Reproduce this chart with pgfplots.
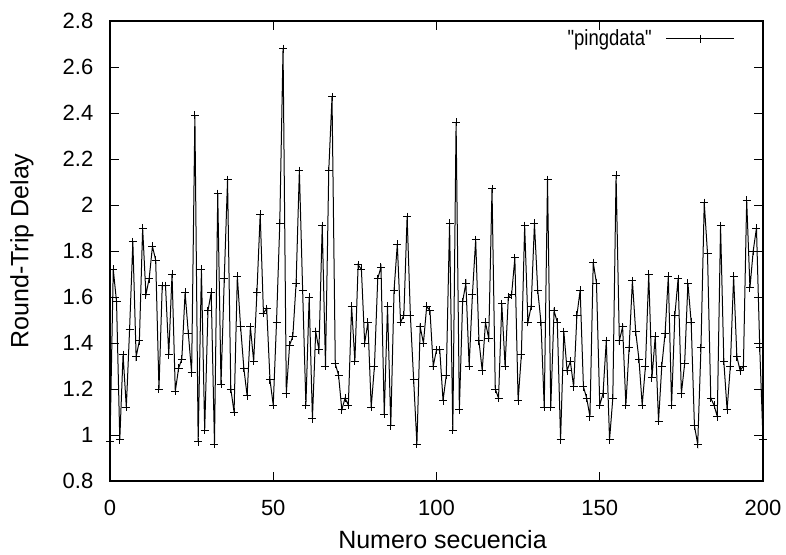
\documentclass[border=0pt]{standalone}
\usepackage{fontspec}
\setmainfont{Liberation Sans}
\newfontfamily\plainfont{Liberation Sans}
\newfontfamily\narrowfont{Liberation Sans}[FakeStretch=0.84]
\usepackage{pgfplots}
\pgfplotsset{compat=1.18}
\usepackage{pgfplotstable}

\pgfplotstableread{
x y
0 0.97
1 1.72
2 1.58
3 0.98
4 1.35
5 1.12
6 1.46
7 1.84
8 1.34
9 1.41
10 1.90
11 1.61
12 1.68
13 1.82
14 1.76
15 1.20
16 1.65
17 1.65
18 1.35
19 1.70
20 1.19
21 1.29
22 1.33
23 1.62
24 1.44
25 1.27
26 2.39
27 0.97
28 1.72
29 1.02
30 1.54
31 1.62
32 0.96
33 2.05
34 1.22
35 1.68
36 2.11
37 1.20
38 1.10
39 1.69
40 1.47
41 1.29
42 1.17
43 1.47
44 1.32
45 1.62
46 1.96
47 1.53
48 1.55
49 1.24
50 1.13
51 1.49
52 1.92
53 2.68
54 1.18
55 1.39
56 1.43
57 1.66
58 2.15
59 1.63
60 1.13
61 1.60
62 1.07
63 1.45
64 1.37
65 1.91
66 1.30
67 2.15
68 2.47
69 1.31
70 1.26
71 1.11
72 1.16
73 1.13
74 1.56
75 1.32
76 1.74
77 1.72
78 1.40
79 1.49
80 1.12
81 1.30
82 1.68
83 1.73
84 1.09
85 1.56
86 1.04
87 1.63
88 1.83
89 1.49
90 1.52
91 1.95
92 1.52
93 1.24
94 0.96
95 1.47
96 1.40
97 1.56
98 1.54
99 1.30
100 1.37
101 1.37
102 1.15
103 1.26
104 1.92
105 1.02
106 2.36
107 1.11
108 1.58
109 1.66
110 1.30
111 1.61
112 1.85
113 1.41
114 1.28
115 1.49
116 1.42
117 2.07
118 1.20
119 1.16
120 1.57
121 1.30
122 1.60
123 1.61
124 1.77
125 1.15
126 1.35
127 1.91
128 1.49
129 1.56
130 1.92
131 1.63
132 1.49
133 1.12
134 2.11
135 1.12
136 1.54
137 1.49
138 0.98
139 1.45
140 1.28
141 1.32
142 1.21
143 1.52
144 1.63
145 1.21
146 1.16
147 1.08
148 1.75
149 1.66
150 1.13
151 1.18
152 1.41
153 0.98
154 1.16
155 2.13
156 1.41
157 1.47
158 1.13
159 1.38
160 1.67
161 1.45
162 1.33
163 1.13
164 1.30
165 1.70
166 1.25
167 1.43
168 1.06
169 1.30
170 1.44
171 1.69
172 1.13
173 1.52
174 1.68
175 1.18
176 1.31
177 1.66
178 1.49
179 1.04
180 0.96
181 1.38
182 2.01
183 1.79
184 1.16
185 1.13
186 1.08
187 1.91
188 1.32
189 1.11
190 1.30
191 1.69
192 1.34
193 1.28
194 1.30
195 2.02
196 1.64
197 1.80
198 1.90
199 1.38
200 0.98
}\pingdata

\begin{document}
\begin{tikzpicture}[font=\fontsize{11}{13}\selectfont]
\useasboundingbox (-55pt,-36.5pt) rectangle (338pt,240.5pt);
\begin{axis}[
  at={(0pt,0pt)}, anchor=south west,
  scale only axis, width=326.5pt, height=230pt,
  xmin=0, xmax=200, ymin=0.8, ymax=2.8,
  xtick={0,50,100,150,200},
  ytick={0.8,1,1.2,1.4,1.6,1.8,2,2.2,2.4,2.6,2.8},
  yticklabels={0.8,1,1.2,1.4,1.6,1.8,2,2.2,2.4,2.6,2.8},
  minor tick num=0, tick align=inside, tick pos=both,
  major tick length=4.5pt,
  axis line style={line width=0.6pt, black},
  every tick/.style={black, line width=0.5pt},
  /pgf/number format/assume math mode=true,
  ticklabel style={font=\fontsize{11}{13}\selectfont},
  yticklabel style={xshift=-4.8pt},
  xticklabel style={yshift=-5.8pt},
  xlabel={Numero secuencia},
  ylabel={Round-Trip Delay},
  label style={font=\fontsize{12.5}{14}\selectfont},
  xlabel style={at={([yshift=-29.5pt,xshift=3pt]axis description cs:0.5,0)}, anchor=center},
  ylabel style={at={([xshift=-44pt]axis description cs:0,0.5)}, anchor=center},
  legend style={draw=none, fill=none, at={(rel axis cs:1,0.961)}, anchor=east,
    xshift=-14pt, inner sep=0pt, column sep=5pt,
    font=\fontsize{11}{13}\narrowfont},
  legend plot pos=right,
  legend cell align=right,
  legend image code/.code={\draw[mark repeat=2,mark phase=2,#1] plot coordinates {(0pt,0pt) (17pt,0pt) (34pt,0pt)};},
]
\addplot[black, line width=0.5pt, mark=+, mark size=2pt, mark options={line width=0.5pt, solid}] table[x=x, y=y] {\pingdata};
\addlegendentry{"pingdata"}
\end{axis}
\end{tikzpicture}
\end{document}
